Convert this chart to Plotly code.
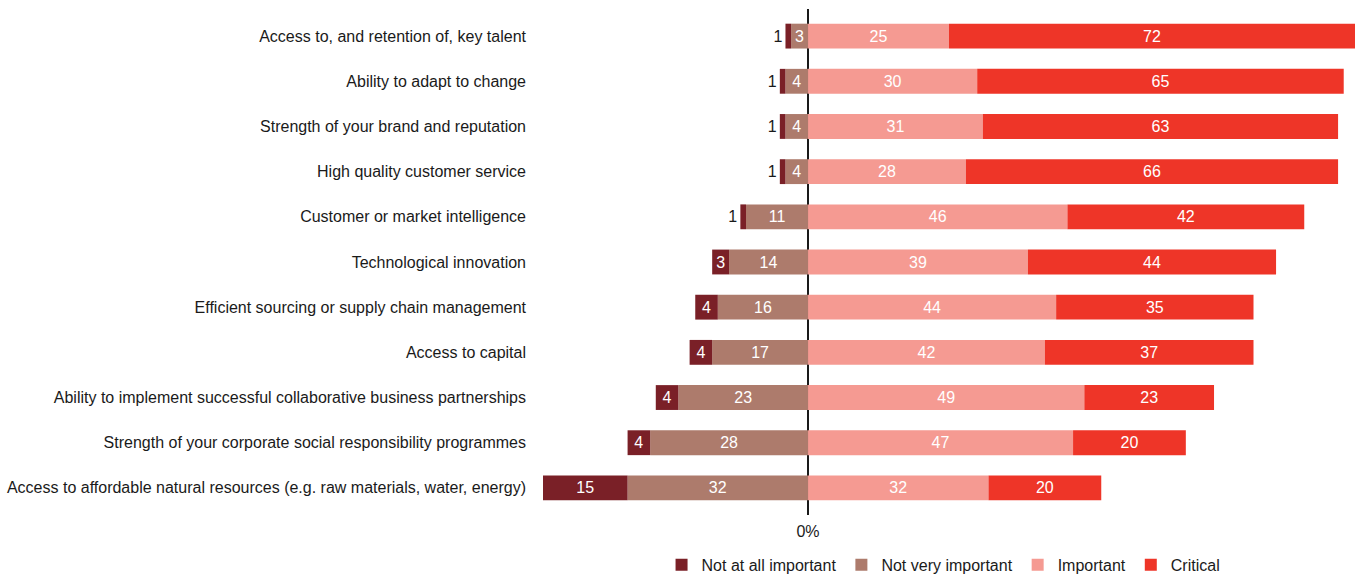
import plotly.graph_objects as go

# rows, top to bottom
factors = [
    "Access to, and retention of, key talent",
    "Ability to adapt to change",
    "Strength of your brand and reputation",
    "High quality customer service",
    "Customer or market intelligence",
    "Technological innovation",
    "Efficient sourcing or supply chain management",
    "Access to capital",
    "Ability to implement successful collaborative business partnerships",
    "Strength of your corporate social responsibility programmes",
    "Access to affordable natural resources (e.g. raw materials, water, energy)",
]
not_at_all = [1, 1, 1, 1, 1, 3, 4, 4, 4, 4, 15]
not_very = [3, 4, 4, 4, 11, 14, 16, 17, 23, 28, 32]
important = [25, 30, 31, 28, 46, 39, 44, 42, 49, 47, 32]
critical = [72, 65, 63, 66, 42, 44, 35, 37, 23, 20, 20]

c_dark = '#7a2027'
c_muted = '#ad7b6c'
c_light = '#f59a92'
c_red = '#ee3528'
ink = '#1a1a1a'

def neg(vals):
    return [-v for v in vals]

fig = go.Figure()
# relative mode stacks in trace order, so the segment nearest zero goes first
fig.add_trace(go.Bar(y=factors, x=neg(not_very), text=not_very,
                     name="Not very important", legendrank=2,
                     marker_color=c_muted, textposition='inside',
                     insidetextfont=dict(color='white')))
fig.add_trace(go.Bar(y=factors, x=neg(not_at_all), text=not_at_all,
                     name="Not at all important", legendrank=1,
                     marker_color=c_dark,
                     textposition=['outside' if v < 2 else 'inside' for v in not_at_all],
                     insidetextfont=dict(color='white'),
                     outsidetextfont=dict(color=ink)))
fig.add_trace(go.Bar(y=factors, x=important, text=important,
                     name="Important", legendrank=3,
                     marker_color=c_light, textposition='inside',
                     insidetextfont=dict(color='white')))
fig.add_trace(go.Bar(y=factors, x=critical, text=critical,
                     name="Critical", legendrank=4,
                     marker_color=c_red, textposition='inside',
                     insidetextfont=dict(color='white')))

fig.update_traces(orientation='h', marker_line_width=0, textangle=0,
                  insidetextanchor='middle', constraintext='none',
                  textfont_size=16, hoverinfo='skip', cliponaxis=False)

fig.update_layout(
    width=1357, height=577,
    barmode='relative', bargap=0.45,
    plot_bgcolor='white', paper_bgcolor='white',
    font=dict(family='Liberation Sans, Arial, sans-serif', size=16, color=ink),
    margin=dict(l=543, r=2, t=9, b=62, autoexpand=False),
    legend=dict(orientation='h', x=0.146, xanchor='left', y=-0.065, yanchor='top',
                traceorder='normal', font_size=16, itemwidth=30),
)
fig.update_xaxes(range=[-47, 97], tickvals=[0], ticktext=["0%"],
                 showgrid=False, zeroline=True, zerolinecolor=ink, zerolinewidth=1.5,
                 showline=False, ticks='', ticklabelstandoff=5, fixedrange=True)
fig.update_yaxes(range=[10.6, -0.6], showgrid=False, showline=False, ticks='',
                 ticklabelstandoff=16, fixedrange=True)

# drop the browser's default body margin so the figure sits at the page corner
fig.write_html("out.html", config={'displayModeBar': False},
               post_script="document.body.style.margin='0';")
